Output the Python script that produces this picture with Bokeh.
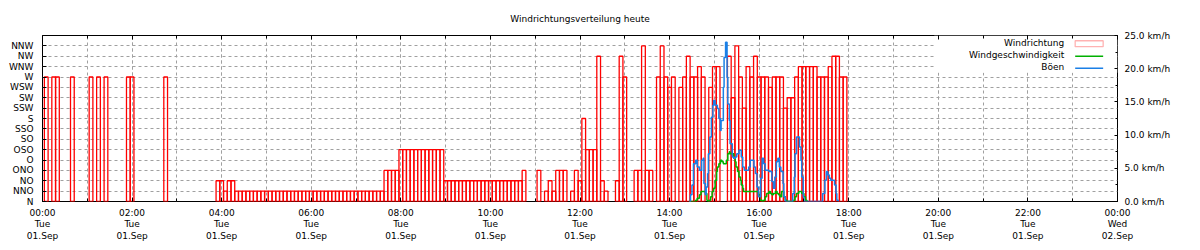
from bokeh.plotting import figure
from bokeh.models import Range1d, LinearAxis, FixedTicker, BoxAnnotation, Label
from bokeh.embed import file_html
from bokeh.resources import INLINE

# ---------------- data ----------------
title_text = "Windrichtungsverteilung heute"
direction_labels = ["N", "NNO", "NO", "ONO", "O", "OSO", "SO", "SSO", "S",
                    "SSW", "SW", "WSW", "W", "WNW", "NW", "NNW"]
slot_minutes = 5
# wind direction index (0=N .. 15=NNW) for every 5-minute slot, one row per hour
direction = [
    0, 12, 0, 12, 12, 0, 0, 0, 12, 0, 0, 0,        # 00
    0, 12, 0, 12, 0, 12, 0, 0, 0, 0, 0, 12,        # 01
    12, 0, 0, 0, 0, 0, 0, 0, 0, 12, 0, 0,          # 02
    0, 0, 0, 0, 0, 0, 0, 0, 0, 0, 0, 2,            # 03
    2, 1, 2, 2, 1, 1, 1, 1, 1, 1, 1, 1,            # 04
    1, 1, 1, 1, 1, 1, 1, 1, 1, 1, 1, 1,            # 05
    1, 1, 1, 1, 1, 1, 1, 1, 1, 1, 1, 1,            # 06
    1, 1, 1, 1, 1, 1, 1, 1, 3, 3, 3, 3,            # 07
    5, 5, 5, 5, 5, 5, 5, 5, 5, 5, 5, 5,            # 08
    2, 2, 2, 2, 2, 2, 2, 2, 2, 2, 2, 2,            # 09
    2, 2, 2, 2, 2, 2, 2, 2, 2, 3, 0, 0,            # 10
    0, 3, 0, 1, 2, 1, 3, 3, 3, 0, 1, 3,            # 11
    2, 8, 5, 5, 5, 14, 2, 1, 0, 0, 2, 14,          # 12
    12, 0, 0, 3, 3, 15, 3, 3, 0, 12, 15, 12,       # 13
    11, 12, 0, 11, 12, 14, 12, 12, 13, 12, 0, 11,  # 14
    13, 13, 0, 0, 14, 10, 15, 12, 9, 13, 12, 14,   # 15
    12, 12, 12, 11, 12, 12, 12, 9, 10, 10, 12, 13, # 16
    13, 13, 13, 13, 12, 12, 12, 13, 14, 14, 12, 12, # 17
]

# gusts (Böen) km/h, minutes after midnight
gust_min = [866, 868, 870, 872, 875, 877, 880, 883, 885, 886, 888, 889, 891, 892, 894, 896,
            898, 899, 901, 904, 906, 908, 909, 912, 913, 915, 917, 918, 920, 921, 924, 926,
            928, 930, 933, 935, 936, 938, 940, 944, 946, 948, 950, 953, 955, 957, 959, 962,
            964, 966, 968, 971, 973, 975, 977, 979, 981, 983, 985, 987, 989, 992, 993, 995,
            1005, 1007, 1008, 1010, 1013, 1014, 1016, 1017, 1019, 1020, 1045, 1048, 1050,
            1052, 1054, 1056, 1059, 1061, 1063, 1064, 1066]
gust_kmh = [0, 1.0, 2.5, 5.7, 6.2, 5.2, 4.7, 6.2, 6.5, 2.7, 1.0, 2.2, 4.2, 7.2, 9.7, 12.7,
            14.5, 15.2, 14.5, 14.0, 12.5, 10.7, 12.2, 17.2, 21.7, 24.0, 18.7, 14.7, 12.2, 8.7, 6.7, 6.5,
            6.7, 7.2, 7.7, 7.7, 6.7, 5.2, 4.7, 4.7, 5.2, 6.2, 6.2, 5.2, 4.2, 2.2, 0.7, 3.5,
            6.5, 5.7, 4.7, 4.7, 4.5, 4.5, 3.0, 2.0, 3.7, 6.0, 6.5, 5.2, 4.5, 2.7, 0.7, 0,
            1.2, 3.7, 7.2, 9.7, 9.7, 8.2, 6.2, 3.7, 0.7, 0, 1.2, 3.2, 4.5,
            4.0, 3.5, 3.2, 3.2, 2.5, 1.2, 0.2, 0]

# mean wind speed (Windgeschwindigkeit) km/h
speed_min = [866, 875, 877, 880, 882, 886, 888, 890, 891, 893, 895, 897, 899, 901, 903, 904,
             906, 908, 910, 912, 915, 916, 918, 920, 921, 924, 926, 928, 929, 931, 933, 935,
             936, 938, 939, 957, 959, 961, 964, 966, 968, 970, 973, 975, 977, 979, 982, 984,
             986, 988, 990, 993, 995, 997, 1006, 1008, 1010, 1013, 1015, 1017, 1020, 1022, 1024]
speed_kmh = [0, 0.2, 0.5, 1.0, 1.5, 1.5, 1.2, 0.2, 0, 0.2, 0.7, 1.5, 2.0, 3.2, 4.5, 5.2,
             5.7, 6.2, 6.0, 5.7, 5.7, 6.2, 7.2, 7.5, 7.2, 7.2, 6.5, 6.0, 5.2, 4.5, 3.7, 3.2,
             2.5, 2.0, 1.5, 1.5, 1.0, 0.2, 0, 0.2, 0.7, 1.2, 1.5, 1.2, 1.0, 1.2, 1.5, 1.2,
             1.0, 0.7, 1.5, 0.7, 0.2, 0, 0.2, 0.7, 1.2, 1.5, 1.5, 1.2, 0.7, 0.2, 0]

x_tick_hours = [0, 2, 4, 6, 8, 10, 12, 14, 16, 18, 20, 22, 24]
x_tick_labels = ["00:00\nTue\n01.Sep", "02:00\nTue\n01.Sep", "04:00\nTue\n01.Sep",
                 "06:00\nTue\n01.Sep", "08:00\nTue\n01.Sep", "10:00\nTue\n01.Sep",
                 "12:00\nTue\n01.Sep", "14:00\nTue\n01.Sep", "16:00\nTue\n01.Sep",
                 "18:00\nTue\n01.Sep", "20:00\nTue\n01.Sep", "22:00\nTue\n01.Sep",
                 "00:00\nWed\n02.Sep"]
kmh_ticks = [0, 5, 10, 15, 20, 25]
kmh_labels = ["0.0 km/h", "5.0 km/h", "10.0 km/h", "15.0 km/h", "20.0 km/h", "25.0 km/h"]
legend_names = ["Windrichtung", "Windgeschwindigkeit", "Böen"]

# ---------------- styling ----------------
FONT = "DejaVu Sans"
FS = "9px"
RED, GREEN, BLUE = "#ff0000", "#00b000", "#1a7fe6"
GRID = "#a0a0a0"

p = figure(width=1200, height=250, output_backend="svg", toolbar_location=None,
           x_range=Range1d(0, 24), y_range=Range1d(0, 16),
           min_border_left=42, min_border_right=83, min_border_top=35, min_border_bottom=49)
p.extra_y_ranges = {"kmh": Range1d(0, 25)}
p.background_fill_color = "white"
p.border_fill_color = "white"
p.outline_line_color = "black"
p.outline_line_width = 1

p.title.text = title_text
p.title.align = "center"
p.title.text_font = FONT
p.title.text_font_size = FS
p.title.text_font_style = "normal"
p.title.text_color = "black"
p.title.standoff = 23

# bottom axis
xt = FixedTicker(ticks=x_tick_hours, minor_ticks=list(range(0, 25)))
xa = p.xaxis[0]
xa.ticker = xt
xa.major_label_overrides = dict(zip(x_tick_hours, x_tick_labels))
xa.axis_line_color = None
xa.major_tick_in = 4
xa.major_tick_out = 0
xa.minor_tick_in = 3
xa.minor_tick_out = 0
xa.major_label_standoff = 6
xa.major_label_text_font = FONT
xa.major_label_text_font_size = FS
xa.major_label_text_color = "black"
xa.major_label_text_line_height = 1.15

# top ticks (mirror)
ta = LinearAxis(ticker=xt, axis_line_color=None, major_tick_in=4, major_tick_out=0,
                minor_tick_in=3, minor_tick_out=0, major_label_text_font_size="1px",
                major_label_text_alpha=0, major_label_standoff=0)
p.add_layout(ta, "above")

# left axis (direction)
ya = p.yaxis[0]
ya.ticker = FixedTicker(ticks=list(range(16)), minor_ticks=[])
ya.major_label_overrides = {i: direction_labels[i] for i in range(16)}
ya.axis_line_color = None
ya.major_tick_in = 4
ya.major_tick_out = 0
ya.major_label_standoff = 9
ya.major_label_text_font = FONT
ya.major_label_text_font_size = FS
ya.major_label_text_color = "black"

# right axis (km/h)
ra = LinearAxis(y_range_name="kmh",
                ticker=FixedTicker(ticks=kmh_ticks, minor_ticks=[2.5, 7.5, 12.5, 17.5, 22.5]))
ra.major_label_overrides = dict(zip(kmh_ticks, kmh_labels))
ra.axis_line_color = None
ra.major_tick_in = 3
ra.major_tick_out = 0
ra.minor_tick_in = 2
ra.minor_tick_out = 0
ra.major_label_standoff = 7
ra.major_label_text_font = FONT
ra.major_label_text_font_size = FS
ra.major_label_text_color = "black"
p.add_layout(ra, "right")

# grids
for g in (p.xgrid[0], p.ygrid[0]):
    g.grid_line_color = GRID
    g.grid_line_dash = "3 3"
    g.grid_line_width = 1
p.xgrid[0].minor_grid_line_color = GRID
p.xgrid[0].minor_grid_line_dash = "3 3"

def hx(px):
    return (px - 41.67) / 44.82

def dy(py):
    return (201.3 - py) / 10.41

# opaque key box
p.add_layout(BoxAnnotation(left=hx(934), right=24, bottom=dy(72), top=16,
                           fill_color="white", fill_alpha=1, line_color=None, level="underlay"))

# bars
bx = [k * slot_minutes / 60 for k, d in enumerate(direction) if d > 0]
bt = [d for d in direction if d > 0]
p.vbar(x=bx, top=bt, bottom=0, width=slot_minutes / 60, fill_color=None,
       line_color=RED, line_width=1.3)

# lines
p.step(x=[m / 60 for m in speed_min], y=speed_kmh, mode="after", y_range_name="kmh",
       line_color=GREEN, line_width=1.5)
p.step(x=[m / 60 for m in gust_min], y=gust_kmh, mode="after", y_range_name="kmh",
       line_color=BLUE, line_width=1.5)

# legend (text left, sample right, as in the original)
rows = [42.7, 54.5, 66.7]
for name, ry in zip(legend_names, rows):
    p.add_layout(Label(x=hx(1064), y=dy(ry), text=name, text_align="right",
                       text_baseline="middle", text_font=FONT, text_font_size=FS,
                       text_color="black"))
p.add_layout(BoxAnnotation(left=hx(1075), right=hx(1103), top=dy(40), bottom=dy(46),
                           fill_color=None, line_color=RED, line_width=1.3))
p.segment(x0=[hx(1075)], x1=[hx(1103)], y0=[dy(rows[1] + 1)], y1=[dy(rows[1] + 1)],
          line_color=GREEN, line_width=1.5)
p.segment(x0=[hx(1075)], x1=[hx(1103)], y0=[dy(rows[2] + 1)], y1=[dy(rows[2] + 1)],
          line_color=BLUE, line_width=1.5)

open("out.html", "w").write(file_html(p, INLINE))
